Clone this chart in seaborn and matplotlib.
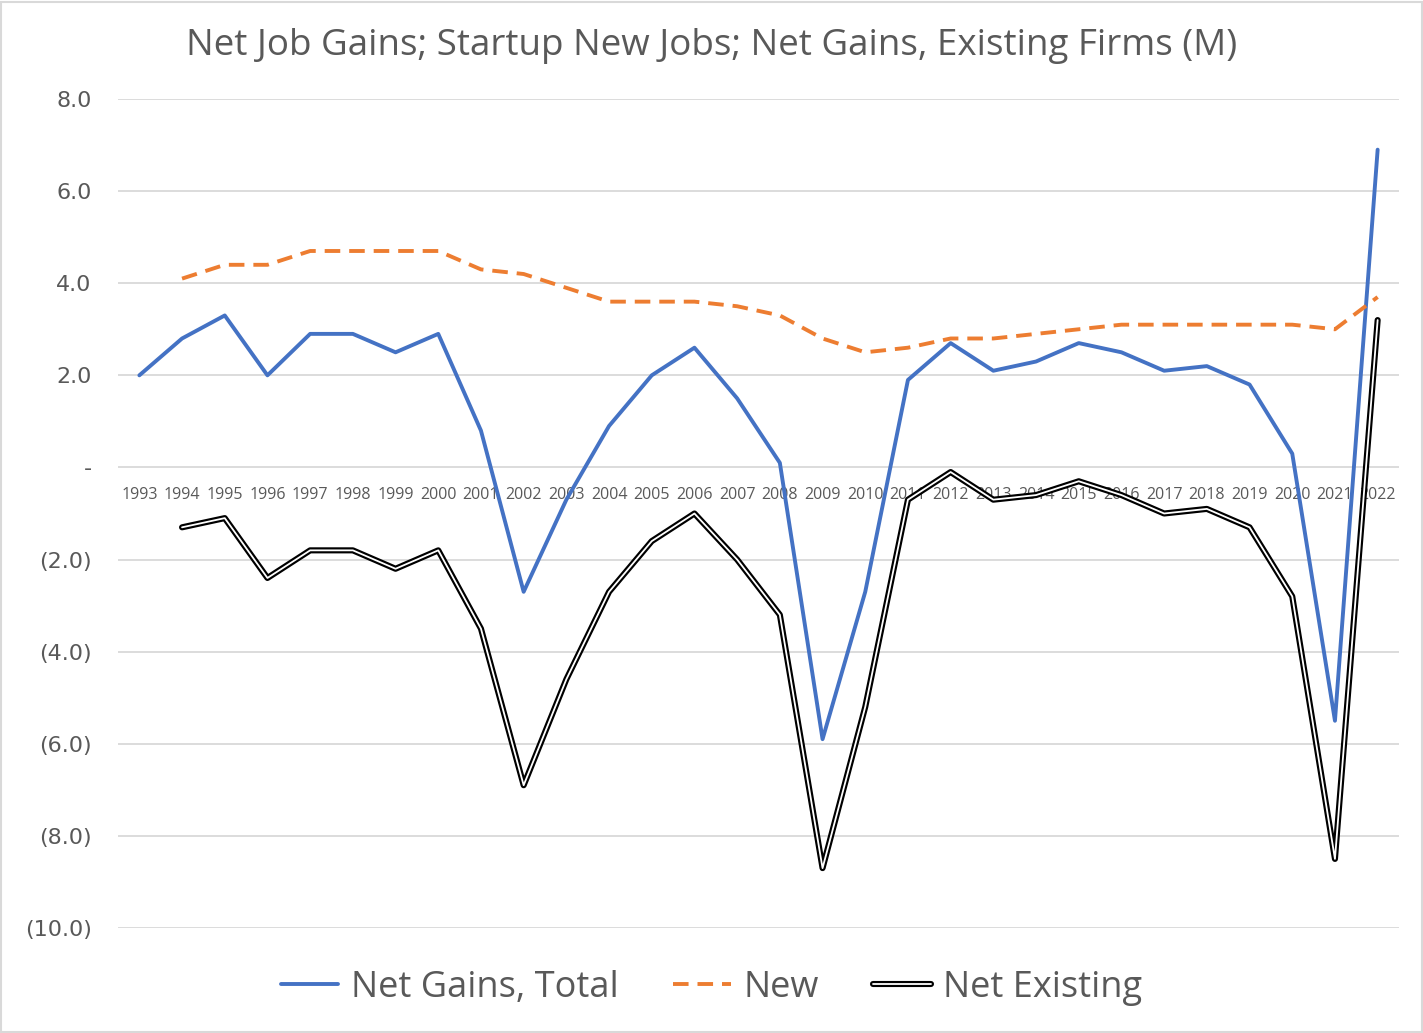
import numpy as np
import pandas as pd
import matplotlib
matplotlib.use("Agg")
import matplotlib.pyplot as plt
import matplotlib.patheffects as pe
import seaborn as sns

years = [str(y) for y in range(1993, 2023)]
net_total = [2.0, 2.8, 3.3, 2.0, 2.9, 2.9, 2.5, 2.9, 0.8, -2.7, -0.7, 0.9, 2.0, 2.6, 1.5,
             0.1, -5.9, -2.7, 1.9, 2.7, 2.1, 2.3, 2.7, 2.5, 2.1, 2.2, 1.8, 0.3, -5.5, 6.9]
new_jobs = [np.nan, 4.1, 4.4, 4.4, 4.7, 4.7, 4.7, 4.7, 4.3, 4.2, 3.9, 3.6, 3.6, 3.6, 3.5,
            3.3, 2.8, 2.5, 2.6, 2.8, 2.8, 2.9, 3.0, 3.1, 3.1, 3.1, 3.1, 3.1, 3.0, 3.7]
net_existing = [np.nan, -1.3, -1.1, -2.4, -1.8, -1.8, -2.2, -1.8, -3.5, -6.9, -4.6, -2.7, -1.6,
                -1.0, -2.0, -3.2, -8.7, -5.2, -0.7, -0.1, -0.7, -0.6, -0.3, -0.6, -1.0, -0.9,
                -1.3, -2.8, -8.5, 3.2]
series_names = ["Net Gains, Total", "New", "Net Existing"]
title = "Net Job Gains; Startup New Jobs; Net Gains, Existing Firms (M)"
y_ticks = [8, 6, 4, 2, 0, -2, -4, -6, -8, -10]

GRAY = "#595959"
BLUE = "#4472C4"
ORANGE = "#ED7D31"

sns.set_style("white")
plt.rcParams["font.family"] = ["Open Sans", "DejaVu Sans"]

fig = plt.figure(figsize=(14.23, 10.33), dpi=100)
ax = fig.add_axes([118 / 1423, 1 - 928 / 1033, (1399 - 118) / 1423, (928 - 99) / 1033])

pos = np.arange(len(years))
df = pd.DataFrame({"pos": pos, "total": net_total, "new": new_jobs, "existing": net_existing})

sns.lineplot(data=df, x="pos", y="total", ax=ax, color=BLUE, lw=2.8,
             label=series_names[0], solid_joinstyle="round", solid_capstyle="round")
sns.lineplot(data=df.dropna(), x="pos", y="new", ax=ax, color=ORANGE, lw=2.8,
             label=series_names[1], dashes=False)
ax.lines[-1].set_linestyle((0, (4.0, 2.3)))
sns.lineplot(data=df.dropna(), x="pos", y="existing", ax=ax, color="white", lw=1.3,
             label=series_names[2],
             path_effects=[pe.Stroke(linewidth=4.4, foreground="black"), pe.Normal()])

ax.set_xlim(-0.5, len(years) - 0.5)
ax.set_ylim(-10, 8)


def yfmt(v):
    if abs(v) < 1e-9:
        return "-"
    if v < 0:
        return f"({abs(v):.1f})"
    return f"{v:.1f}"


ax.set_yticks(y_ticks, labels=[yfmt(v) for v in y_ticks], fontfamily="DejaVu Sans",
              fontsize=16, color=GRAY)
ax.grid(axis="y", color="#D9D9D9", lw=1.3)
ax.set_axisbelow(True)
for s in ["top", "right", "left"]:
    ax.spines[s].set_visible(False)
ax.spines["bottom"].set_position(("data", 0))
ax.spines["bottom"].set_visible(False)
ax.set_xticks(pos)
ax.set_xticklabels(years)
ax.tick_params(axis="x", length=0, pad=14, labelsize=11.5, labelcolor=GRAY)
ax.tick_params(axis="y", length=0, pad=19)
ax.set_xlabel("")
ax.set_ylabel("")

fig.text(0.5, 1 - 46 / 1033, title, ha="center", va="center", fontsize=26.5, color=GRAY)

leg = ax.legend(loc="center", bbox_to_anchor=(0.5, 1 - 988 / 1033), bbox_transform=fig.transFigure,
                ncol=3, frameon=False, fontsize=26, handlelength=1.6, columnspacing=1.5,
                handletextpad=0.35, labelcolor=GRAY)

fig.patches.append(plt.Rectangle((0.001, 0.001), 0.998, 0.997, transform=fig.transFigure,
                                 fill=False, edgecolor="#D9D9D9", lw=1.5))

fig.savefig("out.png", dpi=100)
